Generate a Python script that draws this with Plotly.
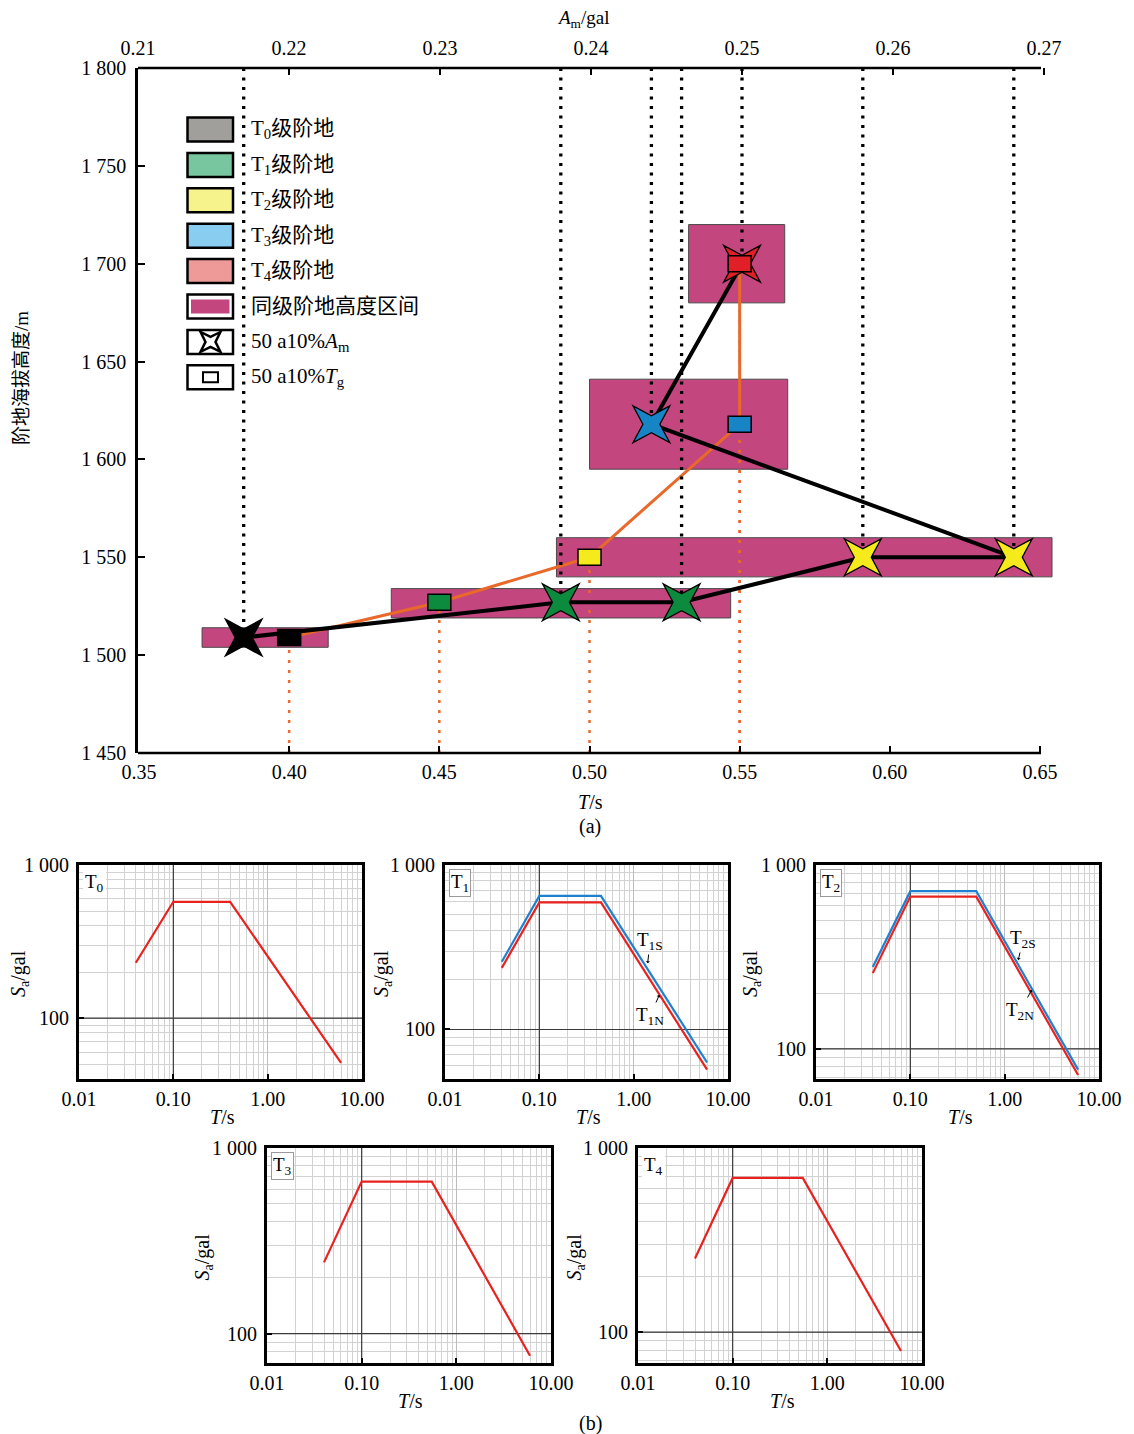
import math
import plotly.graph_objects as go

W, H = 1134, 1434          # reference picture size
OFF = 8                    # page body margin of the html page
FW, FH = W - OFF, H - OFF  # figure size so that it fits the window
FONT = "Liberation Serif, 'Times New Roman', 'Noto Sans CJK SC', serif"

# ---------------- (a) data ----------------
level_names = ["T<sub>0</sub>级阶地", "T<sub>1</sub>级阶地", "T<sub>2</sub>级阶地",
               "T<sub>3</sub>级阶地", "T<sub>4</sub>级阶地"]
level_fill = ["#a09f9b", "#78c69f", "#f6f28c", "#89cdf1", "#ed9a98"]
level_mark = ["#000000", "#0c8a3e", "#f5ea1b", "#1784c6", "#e11f26"]

# height interval of the same terrace level (T range, elevation range)
box_T_lo = [0.371, 0.434, 0.489, 0.500, 0.533]
box_T_hi = [0.413, 0.547, 0.654, 0.566, 0.565]
box_h_lo = [1504, 1519, 1540, 1595, 1680]
box_h_hi = [1514, 1534, 1560, 1641, 1720]

# 50 a 10% Tg (squares)
tg_T = [0.40, 0.45, 0.50, 0.55, 0.55]
tg_h = [1509, 1527, 1550, 1618, 1700]

# 50 a 10% Am (stars), in path order
am_A = [0.217, 0.238, 0.246, 0.258, 0.268, 0.244, 0.250]
am_h = [1509, 1527, 1527, 1550, 1550, 1618, 1700]
am_lvl = [0, 1, 1, 2, 2, 3, 4]

T_ticks = [0.35, 0.40, 0.45, 0.50, 0.55, 0.60, 0.65]
T_ticktext = ["0.35", "0.40", "0.45", "0.50", "0.55", "0.60", "0.65"]
A_ticks = [0.21, 0.22, 0.23, 0.24, 0.25, 0.26, 0.27]
A_ticktext = ["0.21", "0.22", "0.23", "0.24", "0.25", "0.26", "0.27"]
H_ticks = [1450, 1500, 1550, 1600, 1650, 1700, 1750, 1800]
H_ticktext = ["1 450", "1 500", "1 550", "1 600", "1 650", "1 700", "1 750", "1 800"]

# ---------------- (b) data ----------------
T0_T = [0.04, 0.10, 0.40, 6.0]
T0_Sa = [230, 575, 575, 51]
T1S_T = [0.04, 0.10, 0.45, 6.0]
T1S_Sa = [258, 649, 649, 63]
T1N_T = [0.04, 0.10, 0.45, 6.0]
T1N_Sa = [237, 592, 592, 57]
T2S_T = [0.04, 0.10, 0.50, 6.0]
T2S_Sa = [279, 720, 720, 77]
T2N_T = [0.04, 0.10, 0.50, 6.0]
T2N_Sa = [258, 673, 673, 72]
T3_T = [0.04, 0.10, 0.55, 6.0]
T3_Sa = [242, 659, 659, 76]
T4_T = [0.04, 0.10, 0.55, 6.0]
T4_Sa = [251, 688, 688, 79]

spec_xticks = [0.01, 0.1, 1, 10]
spec_xticktext = ["0.01", "0.10", "1.00", "10.00"]
spec_yticks = [100, 1000]
spec_yticktext = ["100", "1 000"]

RED = "#e8221e"
BLUE = "#1f80d0"
MAGENTA = "#c3467f"
ORANGE = "#e8692a"


def px_x(p):
    return (p - OFF) / FW


def px_y(p):
    return 1 - (p - OFF) / FH


def star_path(r_out, r_in):
    pts = []
    for k in range(8):
        ang = math.radians(45 + 45 * k)
        r = r_out if k % 2 == 0 else r_in
        pts.append((r * math.cos(ang), r * math.sin(ang)))
    return "M " + " L ".join(f"{x:.2f},{y:.2f}" for x, y in pts) + " Z"


def text(txt, x, y, size=20, **kw):
    d = dict(text=txt, xref="paper", yref="paper", x=px_x(x), y=px_y(y),
             xanchor="center", yanchor="middle", showarrow=False,
             font=dict(size=size, family=FONT, color="black"))
    d.update(kw)
    return d


fig = go.Figure()
shapes = []
annotations = []

# ---------------- main panel (a) ----------------
L, R_dom, TOP, BOT = 138, 1056, 68, 753
tpp = 0.30 / 901          # bottom axis: 0.35 at 139 px, 0.65 at 1040 px
xr = [0.35 - (139 - L) * tpp, 0.35 + (R_dom - 139) * tpp]
app = 0.06 / 906          # top axis: 0.21 at 138 px, 0.27 at 1044 px
ar = [0.21 - (138 - L) * app, 0.21 + (R_dom - 138) * app]

# height-interval boxes
for lo, hi, hl, hh in zip(box_T_lo, box_T_hi, box_h_lo, box_h_hi):
    fig.add_trace(go.Scatter(x=[lo, hi, hi, lo, lo], y=[hl, hl, hh, hh, hl],
                             mode="lines", fill="toself", fillcolor=MAGENTA,
                             line=dict(color="#4a4a4a", width=1),
                             xaxis="x", yaxis="y", hoverinfo="skip"))

# orange dotted guides from the T axis up to each Tg square
ox, oy = [], []
for t, h in zip(tg_T, tg_h):
    ox += [t, t, None]
    oy += [H_ticks[0], h, None]
fig.add_trace(go.Scatter(x=ox, y=oy, mode="lines", xaxis="x", yaxis="y",
                         line=dict(color=ORANGE, width=2.5, dash="3px,7px")))

# black dotted guides from the Am axis down to each star
bx, by = [], []
for a, h in zip(am_A, am_h):
    bx += [a, a, None]
    by += [H_ticks[-1], h, None]
fig.add_trace(go.Scatter(x=bx, y=by, mode="lines", xaxis="x2", yaxis="y",
                         line=dict(color="black", width=3.3, dash="3px,6.5px")))

# Tg path
fig.add_trace(go.Scatter(x=tg_T, y=tg_h, mode="lines", xaxis="x", yaxis="y",
                         line=dict(color=ORANGE, width=3)))
# Am path
fig.add_trace(go.Scatter(x=am_A, y=am_h, mode="lines", xaxis="x2", yaxis="y",
                         line=dict(color="black", width=4)))

# Am stars (4-pointed stars anchored at the data points)
SP = star_path(26, 8.5)
for a, h, lv in zip(am_A, am_h, am_lvl):
    shapes.append(dict(type="path", xref="x2", yref="y", xsizemode="pixel",
                       ysizemode="pixel", xanchor=a, yanchor=h, path=SP,
                       fillcolor=level_mark[lv], line=dict(color="black", width=1.3),
                       layer="above"))
# Tg squares (rectangles anchored at data points)
for i, (t, h) in enumerate(zip(tg_T, tg_h)):
    shapes.append(dict(type="rect", xref="x", yref="y", xsizemode="pixel",
                       ysizemode="pixel", xanchor=t, yanchor=h,
                       x0=-11.5, x1=11.5, y0=-8, y1=8,
                       fillcolor=level_mark[i], line=dict(color="black", width=1.5),
                       layer="above"))

# frame lines of panel (a)
x_end = 1041
for yy in (TOP, BOT):
    shapes.append(dict(type="line", xref="paper", yref="paper",
                       x0=px_x(L), x1=px_x(x_end), y0=px_y(yy), y1=px_y(yy),
                       line=dict(color="black", width=2.5)))

# legend of panel (a)
row0, step = 117.5, 35.4
for i in range(5):
    y0 = row0 + step * i
    shapes.append(dict(type="rect", xref="paper", yref="paper",
                       x0=px_x(187.5), x1=px_x(233), y0=px_y(y0 + 24), y1=px_y(y0),
                       fillcolor=level_fill[i], line=dict(color="black", width=2.5)))
    annotations.append(text(level_names[i], 249, y0 + 12, size=21, xanchor="left"))
y5 = row0 + step * 5
shapes.append(dict(type="rect", xref="paper", yref="paper",
                   x0=px_x(187.5), x1=px_x(233), y0=px_y(y5 + 24), y1=px_y(y5),
                   fillcolor="white", line=dict(color="black", width=2.5)))
shapes.append(dict(type="rect", xref="paper", yref="paper",
                   x0=px_x(191), x1=px_x(229.5), y0=px_y(y5 + 19), y1=px_y(y5 + 5),
                   fillcolor=MAGENTA, line=dict(width=0)))
annotations.append(text("同级阶地高度区间", 249, y5 + 12, size=21, xanchor="left"))
for k, txt in enumerate(["50 a10%<i>A</i><sub>m</sub>", "50 a10%<i>T</i><sub>g</sub>"]):
    yk = row0 + step * (6 + k)
    shapes.append(dict(type="rect", xref="paper", yref="paper",
                       x0=px_x(187.5), x1=px_x(233), y0=px_y(yk + 24), y1=px_y(yk),
                       fillcolor="white", line=dict(color="black", width=2.5)))
    annotations.append(text(txt, 249, yk + 12, size=21, xanchor="left"))
y6 = row0 + step * 6
shapes.append(dict(type="path", xref="paper", yref="paper", xsizemode="pixel",
                   ysizemode="pixel", xanchor=px_x(210.5), yanchor=px_y(y6 + 12),
                   path=star_path(14, 5), fillcolor="white",
                   line=dict(color="black", width=2.5)))
y7 = row0 + step * 7
shapes.append(dict(type="rect", xref="paper", yref="paper",
                   x0=px_x(203), x1=px_x(218), y0=px_y(y7 + 17), y1=px_y(y7 + 7),
                   fillcolor="white", line=dict(color="black", width=2)))

# titles of panel (a) and the (b) caption
annotations += [
    text("<i>A</i><sub>m</sub>/gal", 583, 19, size=19),
    text("<i>T</i>/s", 590, 802),
    text("(a)", 590, 826),
    text("阶地海拔高度/m", 21, 378, size=19, textangle=-90),
    text("(b)", 590, 1423),
]

tickfont = dict(size=20, family=FONT, color="black")
layout_axes = dict(
    xaxis=dict(domain=[px_x(L), px_x(R_dom)], range=xr, anchor="y", automargin=False,
               tickvals=T_ticks, ticktext=T_ticktext, ticks="inside", ticklen=7,
               tickwidth=1.5, tickcolor="black", showline=False, showgrid=False,
               zeroline=False, tickfont=tickfont, ticklabelstandoff=5),
    xaxis2=dict(overlaying="x", side="top", anchor="y", range=ar, automargin=False,
                tickvals=A_ticks, ticktext=A_ticktext, ticks="inside", ticklen=7,
                tickwidth=1.5, tickcolor="black", showline=False, showgrid=False,
                zeroline=False, tickfont=tickfont, ticklabelstandoff=8),
    yaxis=dict(domain=[px_y(BOT), px_y(TOP)], range=[1450, 1800], anchor="x",
               automargin=False,
               tickvals=H_ticks, ticktext=H_ticktext, ticks="inside", ticklen=7,
               tickwidth=1.5, tickcolor="black", showline=True, linewidth=2.5,
               linecolor="black", showgrid=False, zeroline=False, tickfont=tickfont,
               ticklabelstandoff=5),
)

# ---------------- panels (b) ----------------
panels = [
    dict(name="T<sub>0</sub>", l=79, r=362, t=865, b=1079, ymin=40,
         curves=[(T0_T, T0_Sa, RED)], ytx=20, xtx=222, border=False),
    dict(name="T<sub>1</sub>", l=445, r=728, t=865, b=1079, ymin=50,
         curves=[(T1S_T, T1S_Sa, BLUE), (T1N_T, T1N_Sa, RED)], ytx=383, xtx=588,
         border=True),
    dict(name="T<sub>2</sub>", l=816, r=1099, t=865, b=1079, ymin=68.5,
         curves=[(T2S_T, T2S_Sa, BLUE), (T2N_T, T2N_Sa, RED)], ytx=752, xtx=960,
         border=True),
    dict(name="T<sub>3</sub>", l=267, r=551, t=1148, b=1363, ymin=69.5,
         curves=[(T3_T, T3_Sa, RED)], ytx=203, xtx=410, border=True),
    dict(name="T<sub>4</sub>", l=638, r=922, t=1148, b=1363, ymin=68,
         curves=[(T4_T, T4_Sa, RED)], ytx=575, xtx=782, border=False),
]

minor_x = [k * 10 ** e for e in (-2, -1, 0) for k in range(2, 10)]
minor_y = [k * 10 ** e for e in (1, 2) for k in range(2, 10)]

for j, p in enumerate(panels):
    n = j + 3
    xa, ya = f"x{n}", f"y{n}"
    ylo = p["ymin"]
    # dark reference lines at 0.10 s and 100 gal
    fig.add_trace(go.Scatter(x=[0.1, 0.1], y=[ylo, 1000], mode="lines", xaxis=xa, yaxis=ya,
                             line=dict(color="#3a3a3a", width=1.2)))
    fig.add_trace(go.Scatter(x=[0.01, 10], y=[100, 100], mode="lines", xaxis=xa, yaxis=ya,
                             line=dict(color="#3a3a3a", width=1.2)))
    for tx, sa, col in p["curves"]:
        fig.add_trace(go.Scatter(x=tx, y=sa, mode="lines", xaxis=xa, yaxis=ya,
                                 line=dict(color=col, width=2.2)))
    layout_axes[f"xaxis{n}"] = dict(
        type="log", domain=[px_x(p["l"]), px_x(p["r"])], range=[-2, 1], anchor=ya,
        automargin=False,
        tickvals=spec_xticks, ticktext=spec_xticktext, ticks="inside", ticklen=5,
        tickwidth=2, tickcolor="black", showline=True, mirror=True, linewidth=3,
        linecolor="black", showgrid=True, gridcolor="#bdbdbd", gridwidth=1,
        minor=dict(tickvals=minor_x, showgrid=True, gridcolor="#d2d2d2", gridwidth=1, ticks=""),
        zeroline=False, tickfont=tickfont, ticklabelstandoff=0)
    layout_axes[f"yaxis{n}"] = dict(
        type="log", domain=[px_y(p["b"]), px_y(p["t"])], range=[math.log10(ylo), 3],
        anchor=xa, automargin=False, tickvals=spec_yticks, ticktext=spec_yticktext,
        ticks="inside",
        ticklen=5, tickwidth=2, tickcolor="black", showline=True, mirror=True,
        linewidth=3, linecolor="black", showgrid=True, gridcolor="#bdbdbd", gridwidth=1,
        minor=dict(tickvals=minor_y, showgrid=True, gridcolor="#d2d2d2", gridwidth=1, ticks=""),
        zeroline=False, tickfont=tickfont, ticklabelstandoff=3)
    annotations.append(text(p["name"], p["l"] + 4, p["t"] + 4, size=19,
                            xanchor="left", yanchor="top", bgcolor="white",
                            bordercolor="#9a9a9a" if p["border"] else "white",
                            borderwidth=1, borderpad=1))
    annotations.append(text("<i>S</i><sub>a</sub>/gal", p["ytx"], (p["t"] + p["b"]) / 2 + 2,
                            size=20, textangle=-90))
    annotations.append(text("<i>T</i>/s", p["xtx"], p["b"] + 38, size=20))

# curve labels with leader arrows
for txt, tip, tcen in [
    ("T<sub>1S</sub>", (647.7, 963.3), (650, 941)),
    ("T<sub>1N</sub>", (659.3, 995), (650, 1016)),
    ("T<sub>2S</sub>", (1018.3, 960), (1023, 939)),
    ("T<sub>2N</sub>", (1031.7, 990), (1020, 1011)),
]:
    annotations.append(dict(text=txt, xref="paper", yref="paper",
                            x=px_x(tip[0]), y=px_y(tip[1]), ax=tcen[0] - tip[0],
                            ay=tcen[1] - tip[1], showarrow=True, arrowhead=1,
                            arrowsize=0.7, arrowwidth=1, arrowcolor="black",
                            font=dict(size=19, family=FONT, color="black")))

fig.update_layout(
    width=FW, height=FH, margin=dict(l=0, r=0, t=0, b=0, autoexpand=False),
    paper_bgcolor="white", plot_bgcolor="rgba(0,0,0,0)",
    showlegend=False, font=dict(family=FONT, color="black", size=18),
    shapes=shapes, annotations=annotations, **layout_axes)

fig.write_html("out.html")
